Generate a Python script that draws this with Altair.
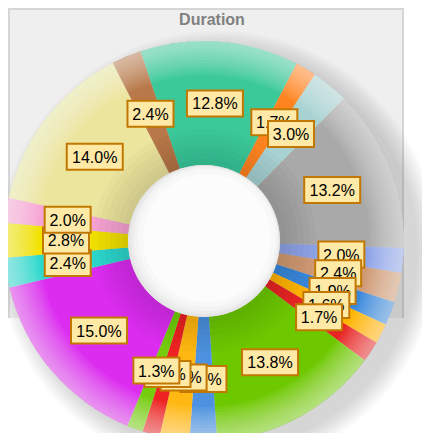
import math
import altair as alt
import pandas as pd

# ---- data (clockwise from the top teal slice) ----
names = ["S01", "S02", "S03", "S04", "S05", "S06", "S07", "S08", "S09", "S10",
         "S11", "S12", "S13", "S14", "S15", "S16", "S17", "S18", "S19", "S20"]
values = [12.8, 1.7, 3.0, 13.2, 2.0, 2.4, 1.9, 1.6, 1.7, 13.8,
          2.2, 2.4, 1.4, 1.3, 15.0, 2.4, 2.8, 2.0, 14.0, 2.4]
colors = ["#3cc99a", "#ff8420", "#a8d2d2", "#a9a9a9", "#8ea4e8", "#d09a74",
          "#3a88dc", "#ffb400", "#e82424", "#6ec800", "#4d92e0", "#ffb812",
          "#ee2222", "#74cc0a", "#dc2cf0", "#2cd8cc", "#f2e200", "#f7a4d4",
          "#ece59e", "#b87848"]
labels = [f"{v:.1f}%" for v in values]
title_text = "Duration"

# ---- layout ----
W, H = 414, 425
CX, CY = 196, 233
R_IN, R_OUT, R_LAB = 76, 200, 138
START = math.radians(-18.5)
TWO_PI = 2 * math.pi

df = pd.DataFrame({"idx": list(range(len(values))), "name": names,
                   "value": values, "label": labels})
one = alt.Data(values=[{"k": 1}])


def disc(r_in, r_out, color, opacity=1.0, dx=0, dy=0):
    return alt.Chart(one).mark_arc(
        innerRadius=r_in, outerRadius=r_out, theta=0, theta2=TWO_PI,
        fill=color, opacity=opacity
    ).encode(x=alt.value(CX + dx), y=alt.value(CY + dy))


layers = []

# panel background and borders
layers.append(alt.Chart(one).mark_rect(fill="#efefef").encode(
    x=alt.value(0), x2=alt.value(395), y=alt.value(0), y2=alt.value(310)))
layers.append(alt.Chart(one).mark_rule(color="#d6d6d6", strokeWidth=2).encode(
    x=alt.value(1), y=alt.value(0), y2=alt.value(310)))
layers.append(alt.Chart(one).mark_rule(color="#d6d6d6", strokeWidth=2).encode(
    x=alt.value(395), y=alt.value(0), y2=alt.value(310)))
layers.append(alt.Chart(one).mark_rule(color="#d6d6d6", strokeWidth=2).encode(
    x=alt.value(0), x2=alt.value(395), y=alt.value(1)))

# title
layers.append(alt.Chart(one).mark_text(
    text=title_text, font="Liberation Sans", fontSize=16, fontWeight="bold",
    color="#808080", align="center", baseline="alphabetic"
).encode(x=alt.value(CX + 8), y=alt.value(17)))

# soft shadow (many faint discs for a smooth fade)
for r in range(220, 198, -2):
    layers.append(disc(0, r, "#8a8a8a", 0.03, dx=14, dy=10))

# slices
layers.append(alt.Chart(df).mark_arc(innerRadius=R_IN, outerRadius=R_OUT).encode(
    theta=alt.Theta("value:Q", stack=True,
                    scale=alt.Scale(range=[START, START + TWO_PI])),
    order=alt.Order("idx:Q"),
    color=alt.Color("name:N", scale=alt.Scale(domain=names, range=colors),
                    legend=None),
    x=alt.value(CX), y=alt.value(CY),
))

# 3D-like shading bands: slightly darker toward the hole, lighter toward the rim
for r in range(112, 78, -6):
    layers.append(disc(R_IN, r, "#000000", 0.018))
for r in range(166, 200, 3):
    layers.append(disc(r, R_OUT, "#ffffff", 0.06))

# hole
layers.append(disc(0, R_IN, "#e6e6e6"))
for r, c, d in [(74, "#ededed", 1), (72, "#f3f3f3", 2), (69, "#f8f8f8", 3), (64, "#fcfcfc", 3)]:
    layers.append(disc(0, r, c, dx=d, dy=-d))

# labels (drawn one after another so later boxes cover earlier ones)
lab_base = alt.Chart(df).transform_window(
    cum="sum(value)", sort=[alt.SortField("idx")], frame=[None, 0]
).transform_joinaggregate(total="sum(value)").transform_calculate(
    ang=f"{START} + 2*PI*(datum.cum - datum.value/2)/datum.total",
    px=f"{CX} + {R_LAB}*sin(datum.ang)",
    py=f"{CY} - {R_LAB}*cos(datum.ang)",
    hw="(10*length(datum.label) + 6)/2",
    x1="datum.px - datum.hw",
    x2="datum.px + datum.hw",
    y1="datum.py - 13",
    y2="datum.py + 13",
)

for i in range(len(values)):
    b = lab_base.transform_filter(f"datum.idx == {i}")
    layers.append(b.mark_rect(fill="#ffe9a6", stroke="#c27800", strokeWidth=2).encode(
        x=alt.X("x1:Q", scale=None, axis=None), x2="x2:Q",
        y=alt.Y("y1:Q", scale=None, axis=None), y2="y2:Q"))
    layers.append(b.mark_text(font="Liberation Sans", fontSize=16, color="#000000",
                              align="center", baseline="middle", dy=1).encode(
        x=alt.X("px:Q", scale=None, axis=None),
        y=alt.Y("py:Q", scale=None, axis=None),
        text="label:N"))

chart = alt.layer(*layers).properties(
    width=W, height=H, padding=0,
    autosize=alt.AutoSizeParams(type="none"),
).configure_view(strokeWidth=0)

chart.save("out.html", embed_options={"renderer": "svg", "actions": False})
